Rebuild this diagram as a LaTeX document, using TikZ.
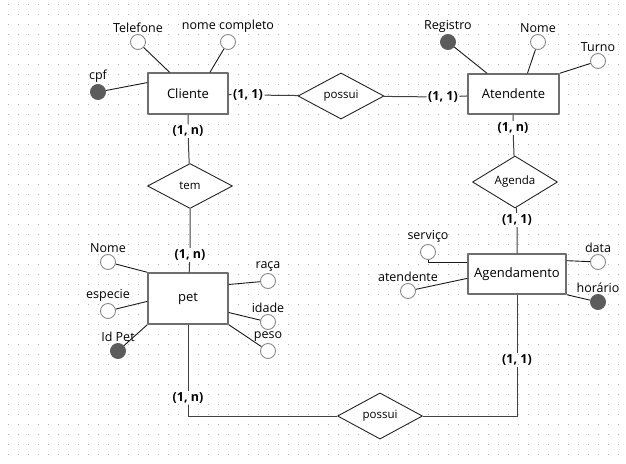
\documentclass[tikz,border=0pt]{standalone}
\usepackage{fontspec}
\setmainfont{Open Sans}
\usetikzlibrary{shapes.geometric}
\definecolor{borda}{HTML}{6E6E6E}
\definecolor{chave}{HTML}{5C5C5C}
\definecolor{contorno}{HTML}{8A8A8A}
\definecolor{ponto}{HTML}{B4B4B4}
\begin{document}
\begin{tikzpicture}[x=1pt,y=-1pt, line join=round,
    ent/.style={draw=borda,line width=1.4pt,fill=white,inner sep=0pt,minimum width=80pt,minimum height=41pt,font=\fontsize{13}{15}\selectfont},
    rel/.style={diamond,draw=black!85,fill=white,line width=0.9pt,inner sep=0pt,minimum width=85pt,minimum height=45pt,font=\fontsize{11.5}{13}\selectfont},
    atrib/.style={circle,draw=contorno,fill=white,line width=0.9pt,minimum size=15pt,inner sep=0pt,label distance=-1.5pt},
    chv/.style={atrib,draw=chave,fill=chave},
    card/.style={font=\bfseries\fontsize{12.5}{14}\selectfont,inner sep=1.5pt},
    lig/.style={draw=black!75,line width=1pt},
    fio/.style={draw=black!90,line width=0.9pt},
    every label/.style={font=\fontsize{12.5}{14}\selectfont,inner sep=1pt}]
    \def\xt{0} \def\xp{626} \def\yt{0} \def\yd{463}
    \useasboundingbox (\xt,\yt) rectangle (\xp,\yd);
    \fill[white] (\xt,\yt) rectangle (\xp,\yd);
    % grade de pontos
    \foreach \gx in {8,18,...,618} \foreach \gy in {4,14,...,454} \fill[ponto] (\gx,\gy) rectangle +(1,1);

    \node[ent] (cliente) at (188,93.5) {Cliente};
    \node[ent,minimum width=91pt,minimum height=40pt] (atendente) at (513.5,94) {Atendente};
    \node[ent,minimum width=98pt,minimum height=40pt] (agendamento) at (517,274) {Agendamento};
    \node[ent,minimum height=51pt] (pet) at (188,298.5) {pet};
    \node[rel,minimum width=86pt,minimum height=44pt] (possui) at (341,96) {possui};
    \node[rel] (tem) at (190,186) {tem};
    \node[rel] (agenda) at (515,182) {Agenda};
    \node[rel] (possuiB) at (380,416) {possui};

    \node[card] (cCli) at (248,95) {(1, 1)};
    \node[card] (cAte) at (443,97) {(1, 1)};
    \node[card] (cCliTem) at (188,131) {(1, n)};
    \node[card] (cPetTem) at (190,255) {(1, n)};
    \node[card] (cAteAg) at (513,128) {(1, n)};
    \node[card] (cAgAg) at (517,220) {(1, 1)};
    \node[card] (cAgP) at (517,360) {(1, 1)};
    \node[card] (cPetP) at (188,398) {(1, n)};

    \node[atrib,label=above:Telefone] (aTel) at (138,42) {};
    \node[atrib,label=above:nome completo] (aNome) at (228,42) {};
    \node[chv,label=above:cpf] (aCpf) at (98,92) {};
    \node[chv,label=above:Registro] (aReg) at (448,42) {};
    \node[atrib,label=above:Nome] (aNomeAt) at (538,42) {};
    \node[atrib,label=above:Turno] (aTurno) at (598,61) {};
    \node[atrib,label=above:serviço] (aServ) at (428,252) {};
    \node[atrib,label=above:atendente] (aAtend) at (408,291) {};
    \node[atrib,label=above:data] (aData) at (598,262) {};
    \node[chv,label=above:horário] (aHora) at (598,302) {};
    \node[atrib,label=above:Nome] (aNomePet) at (108,262) {};
    \node[atrib,label=above:especie] (aEsp) at (108,311) {};
    \node[chv,label=above:Id Pet] (aId) at (118,351) {};
    \node[atrib,label=above:raça] (aRaca) at (268,281) {};
    \node[atrib,label=above:idade] (aIdade) at (268,322) {};
    \node[atrib,label=above:peso] (aPeso) at (268,351) {};

    \draw[lig] (cliente) -- (cCli) -- (possui) -- (cAte) -- (atendente);
    \draw[lig] (cliente) -- (cCliTem) -- (tem) -- (cPetTem) -- (pet);
    \draw[lig] (atendente) -- (cAteAg) -- (agenda) -- (cAgAg) -- (agendamento);
    \draw[lig] (agendamento) -- (cAgP) |- (possuiB);
    \draw[lig] (pet) -- (cPetP) |- (possuiB);

    \draw[fio] (aTel) -- (cliente.131);
    \draw[fio] (aNome) -- (cliente.44);
    \draw[fio] (aCpf) -- (cliente.165);
    \draw[fio] (aReg) -- (atendente.142);
    \draw[fio] (aNomeAt) -- (atendente.56);
    \draw[fio] (aTurno) -- (atendente.north east);
    \draw[fio] (aServ) |- (agendamento.167);
    \draw[fio] (aAtend) -- (agendamento.185);
    \draw[fio] (aData) -- (agendamento.15);
    \draw[fio] (aHora) -- (agendamento.south east);
    \draw[fio] (aNomePet) -- (pet.north west);
    \draw[fio] (aEsp) -- (pet.184);
    \draw[fio] (aId) -- (pet.south west);
    \draw[fio] (aRaca) -- (pet.19);
    \draw[fio] (aIdade) -- (pet.341);
    \draw[fio] (aPeso) -- (pet.south east);
\end{tikzpicture}
\end{document}
